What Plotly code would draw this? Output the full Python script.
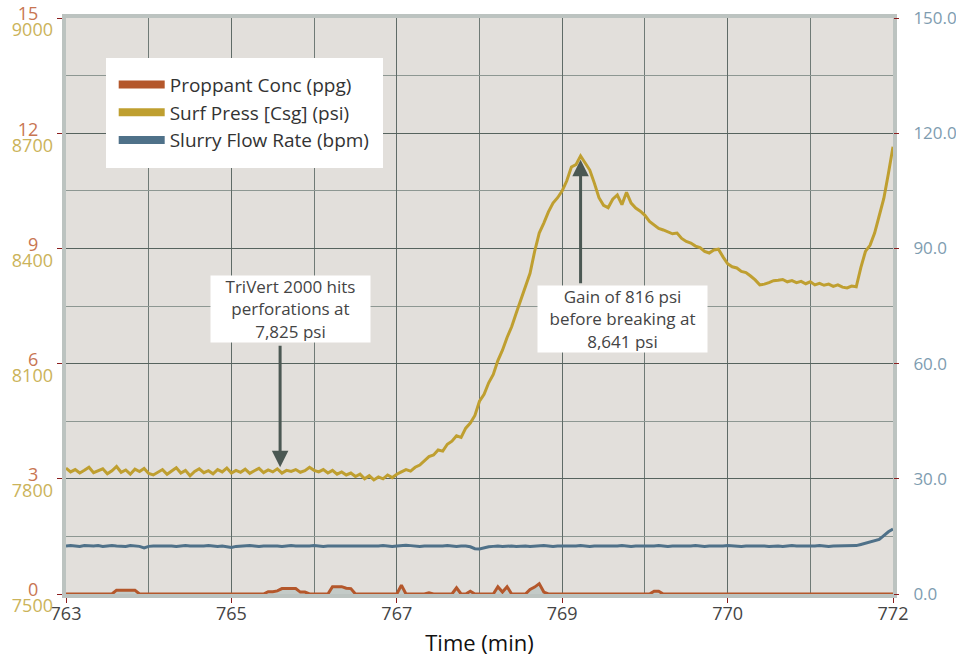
import plotly.graph_objects as go

# ---- data ----
time_min = [round(763 + 0.05 * i, 2) for i in range(181)]

surf_press = [
    7828, 7818, 7824, 7815, 7822, 7830, 7816, 7820, 7826, 7813, 7821, 7832, 7817, 7823, 7812, 7825, 7819, 7827, 7814, 7810,
    7818, 7824, 7812, 7820, 7829, 7815, 7822, 7808, 7819, 7826, 7816, 7821, 7813, 7824, 7818, 7828, 7815, 7822, 7817, 7825,
    7814, 7821, 7827, 7816, 7823, 7818, 7826, 7815, 7822, 7819, 7824, 7817, 7821, 7830, 7822, 7818, 7824, 7815, 7822, 7812,
    7818, 7810, 7815, 7806, 7812, 7800, 7808, 7797, 7805, 7800, 7810, 7803, 7812, 7818, 7824, 7820, 7830, 7836, 7846, 7858,
    7862, 7875, 7872, 7890, 7898, 7912, 7908, 7932, 7945, 7965, 8002, 8020, 8050, 8072, 8108, 8135, 8168, 8196, 8232, 8268,
    8298, 8335, 8392, 8440, 8466, 8495, 8518, 8532, 8550, 8576, 8612, 8618, 8641, 8622, 8604, 8570, 8532, 8512, 8506, 8528,
    8539, 8514, 8546, 8518, 8505, 8497, 8486, 8470, 8461, 8452, 8448, 8444, 8438, 8440, 8426, 8418, 8414, 8406, 8402, 8392,
    8388, 8396, 8398, 8378, 8360, 8352, 8349, 8340, 8337, 8328, 8318, 8305, 8307, 8311, 8316, 8317, 8319, 8313, 8316, 8311,
    8314, 8308, 8313, 8305, 8309, 8304, 8307, 8301, 8305, 8299, 8297, 8302, 8300, 8350, 8392, 8408, 8440, 8485, 8530, 8595,
    8665,
]

flow_rate = [
    12.5, 12.6, 12.5, 12.4, 12.6, 12.5, 12.5, 12.6, 12.4, 12.5, 12.6, 12.5, 12.5, 12.4, 12.6, 12.5, 12.4, 12.0, 12.4, 12.5,
    12.5, 12.6, 12.5, 12.5, 12.4, 12.5, 12.6, 12.5, 12.5, 12.4, 12.5, 12.6, 12.5, 12.4, 12.5, 12.3, 12.1, 12.4, 12.5, 12.5,
    12.6, 12.5, 12.4, 12.5, 12.5, 12.6, 12.5, 12.4, 12.5, 12.6, 12.5, 12.5, 12.4, 12.5, 12.6, 12.5, 12.4, 12.5, 12.5, 12.4,
    12.5, 12.4, 12.5, 12.4, 12.5, 12.5, 12.4, 12.5, 12.5, 12.6, 12.5, 12.4, 12.5, 12.6, 12.7, 12.6, 12.5, 12.4, 12.5, 12.5,
    12.4, 12.5, 12.5, 12.6, 12.5, 12.4, 12.5, 12.5, 12.3, 11.8, 11.7, 12.1, 12.3, 12.4, 12.5, 12.4, 12.5, 12.5, 12.4, 12.5,
    12.5, 12.4, 12.5, 12.5, 12.6, 12.5, 12.4, 12.5, 12.5, 12.4, 12.5, 12.5, 12.6, 12.5, 12.4, 12.5, 12.5, 12.4, 12.5, 12.5,
    12.5, 12.6, 12.5, 12.4, 12.5, 12.5, 12.4, 12.5, 12.5, 12.6, 12.5, 12.4, 12.5, 12.5, 12.4, 12.5, 12.5, 12.6, 12.5, 12.4,
    12.5, 12.5, 12.4, 12.5, 12.6, 12.5, 12.5, 12.4, 12.5, 12.5, 12.5, 12.6, 12.5, 12.4, 12.5, 12.5, 12.4, 12.5, 12.6, 12.5,
    12.5, 12.4, 12.5, 12.5, 12.6, 12.5, 12.4, 12.5, 12.5, 12.6, 12.5, 12.5, 12.6, 12.9, 13.2, 13.5, 13.9, 14.2, 15.2, 16.2,
    16.9,
]

proppant_conc = [
    0, 0, 0, 0, 0, 0, 0, 0, 0, 0, 0, 0.1, 0.1, 0.1, 0.1, 0.1, 0, 0, 0, 0,
    0, 0, 0, 0, 0, 0, 0, 0, 0, 0, 0, 0, 0, 0, 0, 0, 0, 0, 0, 0,
    0, 0, 0, 0, 0.06, 0.06, 0.08, 0.14, 0.14, 0.14, 0.14, 0.05, 0.05, 0, 0, 0, 0, 0, 0.19, 0.19,
    0.19, 0.15, 0.14, 0, 0, 0, 0, 0, 0, 0, 0, 0, 0, 0.23, 0, 0, 0, 0, 0, 0.03,
    0, 0, 0, 0, 0, 0.16, 0, 0, 0.07, 0, 0, 0, 0, 0, 0.19, 0.05, 0.19, 0, 0, 0,
    0, 0.12, 0.18, 0.27, 0.05, 0, 0, 0, 0, 0, 0, 0, 0, 0, 0, 0, 0, 0, 0, 0,
    0, 0, 0, 0, 0, 0, 0, 0, 0.07, 0.07, 0, 0, 0, 0, 0, 0, 0, 0, 0, 0,
    0, 0, 0, 0, 0, 0, 0, 0, 0, 0, 0, 0, 0, 0, 0, 0, 0, 0, 0, 0,
    0, 0, 0, 0, 0, 0, 0, 0, 0, 0, 0, 0, 0, 0, 0, 0, 0, 0, 0, 0,
    0,
]

series_names = ["Proppant Conc (ppg)", "Surf Press [Csg] (psi)", "Slurry Flow Rate (bpm)"]

x_tickvals = [763, 764.8, 766.6, 768.4, 770.2, 772]
x_ticktext = ["763", "765", "767", "769", "770", "772"]
prop_ticks = [0, 3, 6, 9, 12, 15]
press_ticks = [7500, 7800, 8100, 8400, 8700, 9000]
flow_ticks = [0, 30, 60, 90, 120, 150]
flow_ticktext = ["0.0", "30.0", "60.0", "90.0", "120.0", "150.0"]

note1 = "TriVert 2000 hits<br>perforations at<br>7,825 psi"
note2 = "Gain of 816 psi<br>before breaking at<br>8,641 psi"
note1_point = (765.33, 7825)
note2_point = (768.6, 8641)

# ---- style ----
C_PROP = "#b4572b"
C_PRESS = "#bf9f30"
C_FLOW = "#4f7189"
FONT = "Open Sans"
RED = "#8b1d1d"
BORDER = "#bcc3c0"

fig = go.Figure()

fig.add_trace(go.Scatter(x=time_min, y=proppant_conc, mode="lines", yaxis="y",
                         line=dict(color=C_PROP, width=3), fill="tozeroy",
                         fillcolor="#c3cac7", showlegend=False))
fig.add_trace(go.Scatter(x=time_min, y=surf_press, mode="lines", yaxis="y2",
                         line=dict(color=C_PRESS, width=3), showlegend=False))
fig.add_trace(go.Scatter(x=time_min, y=flow_rate, mode="lines", yaxis="y3",
                         line=dict(color=C_FLOW, width=3), showlegend=False))

# legend entries (thick swatches)
for name, col in zip(series_names, [C_PROP, C_PRESS, C_FLOW]):
    fig.add_trace(go.Scatter(x=[None], y=[None], mode="lines", name=name,
                             line=dict(color=col, width=8), yaxis="y"))

fig.update_layout(
    width=956, height=657,
    margin=dict(l=66, r=63, t=18, b=63, autoexpand=False),
    paper_bgcolor="white",
    plot_bgcolor="#e2dfdb",
    font=dict(family=FONT, size=18, color="#444"),
    showlegend=True,
    legend=dict(x=0.048, y=0.931, xanchor="left", yanchor="top",
                bgcolor="white", bordercolor="white", borderwidth=8,
                font=dict(size=19, color="#333"),
                itemwidth=46, tracegroupgap=0,
                ),
    xaxis=dict(
        range=[763, 772], tickvals=x_tickvals, ticktext=x_ticktext,
        ticks="outside", ticklen=5, tickcolor=RED, tickwidth=1,
        showgrid=True, gridcolor="#5f6b67", gridwidth=1.3,
        minor=dict(tick0=763, dtick=0.9, showgrid=True, gridcolor="#6f7a76", gridwidth=1.3, ticks=""),
        showline=True, mirror=True, linecolor=BORDER, linewidth=4,
        zeroline=False, automargin=False, ticklabeloverflow="allow",
        tickfont=dict(size=18, color="#444"),
        ticklabelstandoff=-5,
        title=dict(text="Time (min)", font=dict(size=22, color="#111"), standoff=13),
    ),
    yaxis=dict(
        range=[0, 15], tickvals=prop_ticks, ticktext=[str(v) for v in prop_ticks],
        ticks="outside", ticklen=5, tickcolor=RED, tickwidth=1,
        showgrid=True, gridcolor="#56635e", gridwidth=1.3,
        minor=dict(tick0=0, dtick=1.5, showgrid=True, gridcolor="#8d9792", gridwidth=1.3, ticks=""),
        showline=True, mirror=True, linecolor=BORDER, linewidth=4,
        zeroline=False, automargin=False, ticklabeloverflow="allow",
        tickfont=dict(size=18, color="#c87552"),
        ticklabelshift=-4, ticklabelstandoff=15,
    ),
    yaxis2=dict(
        range=[7500, 9000], tickvals=press_ticks, overlaying="y", side="left",
        anchor="x", showgrid=False, zeroline=False, ticks="", automargin=False,
        ticklabeloverflow="allow",
        tickfont=dict(size=18, color="#cbb35a"),
        ticklabelshift=12, ticklabelstandoff=12,
    ),
    yaxis3=dict(
        range=[0, 150], tickvals=flow_ticks, ticktext=flow_ticktext, overlaying="y", side="right",
        anchor="x", showgrid=False, zeroline=False, automargin=False,
        ticklabeloverflow="allow",
        ticks="outside", ticklen=5, tickcolor=RED, tickwidth=1,
        tickfont=dict(size=17, color="#7e9cb0"),
        ticklabelstandoff=11,
    ),
)

ARROW = "#4b5853"
fig.add_annotation(x=note1_point[0], y=note1_point[1], xref="x", yref="y2",
                   text="", showarrow=True, arrowhead=2, arrowsize=1.1, arrowwidth=3,
                   arrowcolor=ARROW, ax=0, ay=-125, standoff=2)
fig.add_annotation(x=note2_point[0], y=note2_point[1], xref="x", yref="y2",
                   text="", showarrow=True, arrowhead=2, arrowsize=1.1, arrowwidth=3,
                   arrowcolor=ARROW, ax=0, ay=129, standoff=4)
fig.add_annotation(x=765.44, y=7.42, xref="x", yref="y", text=note1, showarrow=False,
                   bgcolor="white", width=157, height=64, borderpad=1,
                   font=dict(size=17, color="#444"))
fig.add_annotation(x=769.06, y=7.16, xref="x", yref="y", text=note2, showarrow=False,
                   bgcolor="white", width=167, height=64, borderpad=1,
                   font=dict(size=17, color="#444"))

# remove the default 8px page margin so the 956x657 figure fills the window exactly
fig.write_html("out.html", config={"displayModeBar": False},
               post_script="document.body.style.margin='0px';")
